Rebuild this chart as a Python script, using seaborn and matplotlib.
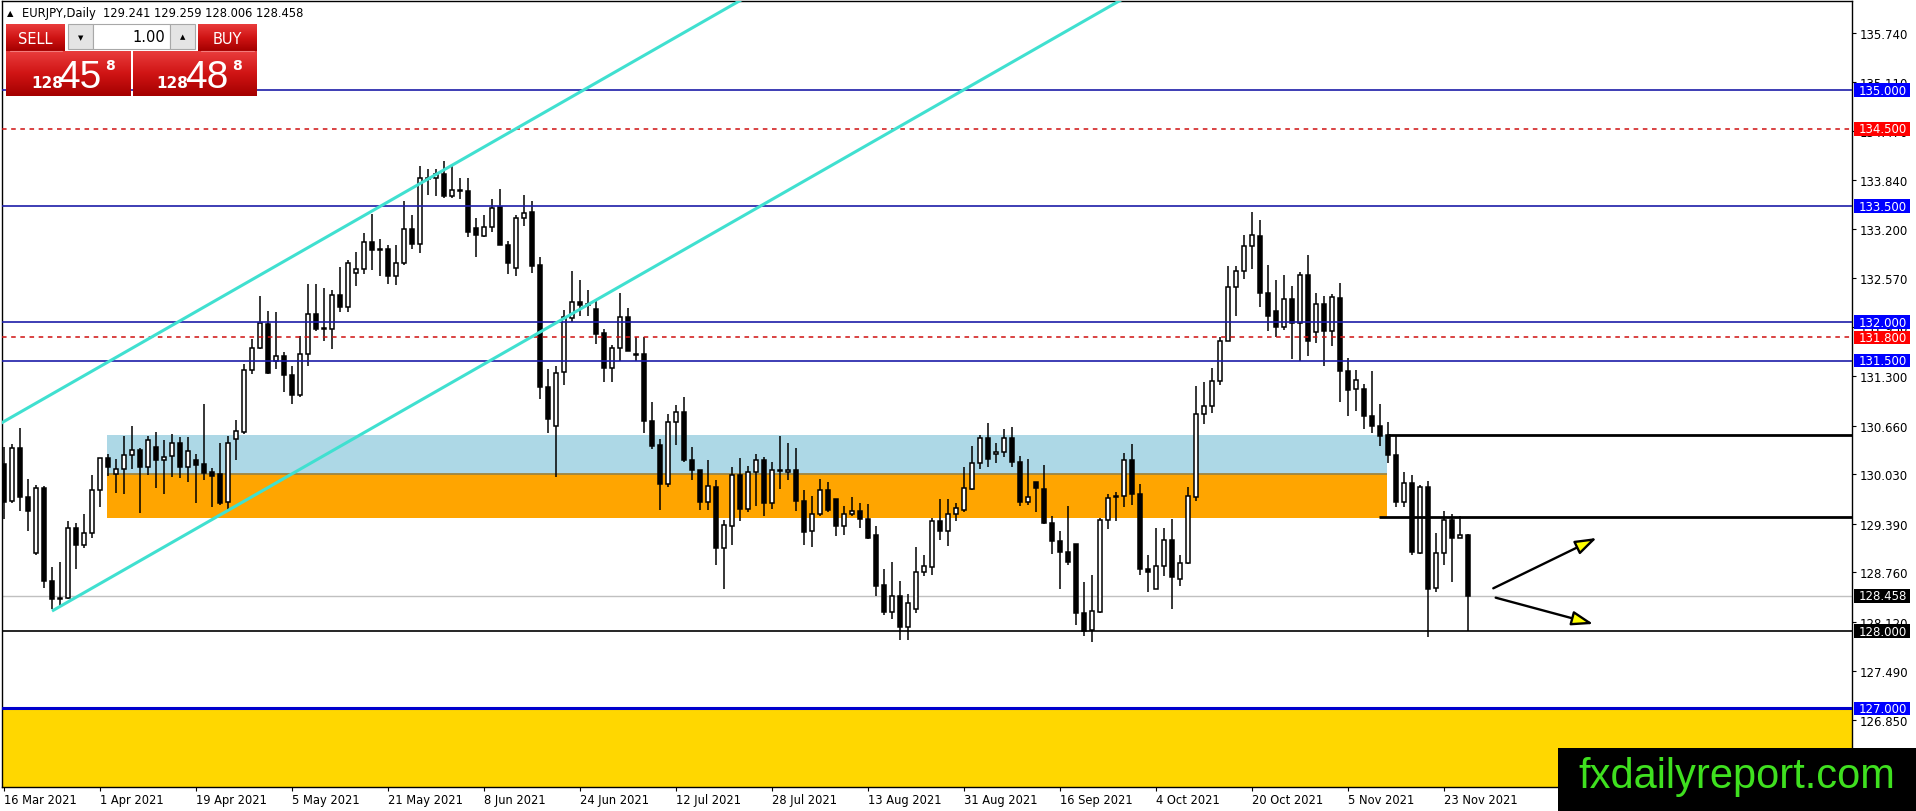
import numpy as np
import pandas as pd
import matplotlib
matplotlib.use('Agg')
import matplotlib.pyplot as plt
import seaborn as sns
from matplotlib.patches import Rectangle, FancyArrowPatch
from matplotlib.transforms import blended_transform_factory
from matplotlib.colors import LinearSegmentedColormap

sns.set_theme(style='white')
plt.rcParams['font.family'] = ['DejaVu Sans']

# ---------------- data ----------------
dates = pd.bdate_range('2021-03-16', periods=184)

open_ = [130.16, 129.68, 130.37, 129.73, 129.01, 129.85, 128.65, 128.42, 128.43, 129.34,
         129.11, 129.27, 129.82, 130.24, 130.03, 130.10, 130.28, 130.35, 130.12, 130.38,
         130.22, 130.26, 130.44, 130.12, 130.22, 130.16, 130.06, 130.03, 129.67, 130.48,
         130.58, 131.38, 131.66, 131.98, 131.50, 131.56, 131.32, 131.06, 131.58, 132.10,
         131.91, 131.91, 132.35, 132.19, 132.64, 132.68, 133.03, 132.94, 132.945, 132.59,
         132.76, 133.20, 133.01, 133.85, 133.87, 133.92, 133.63, 133.71, 133.70, 133.22,
         133.11, 133.225, 133.49, 133.00, 132.695, 133.35, 133.42, 132.74, 131.16, 130.65,
         131.35, 132.05, 132.255, 132.23, 132.17, 131.86, 131.405, 131.67, 132.07, 131.58,
         131.58, 130.72, 130.41, 129.91, 130.71, 130.83, 130.21, 130.085, 129.67, 129.87,
         129.07, 129.36, 130.02, 129.58, 130.055, 130.215, 129.66, 130.07, 130.064, 130.085,
         129.69, 129.29, 129.52, 129.82, 129.71, 129.36, 129.51, 129.55, 129.45, 129.24,
         128.60, 128.25, 128.45, 128.05, 128.28, 128.77, 128.83, 129.42, 129.30, 129.51,
         129.57, 129.84, 130.18, 130.50, 130.29, 130.32, 130.50, 130.19, 129.67, 129.93,
         129.84, 129.40, 129.16, 129.03, 129.13, 128.24, 128.01, 128.25, 129.44, 129.74,
         129.75, 130.21, 129.78, 128.80, 128.55, 128.84, 129.18, 128.68, 128.88, 129.74,
         130.81, 130.91, 131.24, 131.76, 132.45, 132.66, 132.98, 133.11, 132.38, 132.14,
         131.93, 132.30, 131.99, 132.61, 131.87, 132.23, 131.89, 132.31, 131.36, 131.13,
         131.13, 130.79, 130.66, 130.54, 130.28, 129.67, 129.92, 129.01, 129.87, 128.56,
         129.01, 129.44, 129.21, 129.241]
high = [130.38, 130.42, 130.63, 129.97, 129.89, 129.88, 128.83, 128.90, 129.42, 129.40,
        129.52, 130.02, 130.24, 130.29, 130.23, 130.53, 130.66, 130.37, 130.53, 130.58,
        130.47, 130.55, 130.51, 130.51, 130.29, 130.94, 130.11, 130.43, 130.52, 130.73,
        131.46, 131.78, 132.34, 132.14, 132.13, 131.61, 131.43, 131.82, 132.49, 132.49,
        132.44, 132.41, 132.71, 132.80, 132.91, 133.15, 133.40, 133.07, 133.00, 133.00,
        133.57, 133.38, 134.02, 133.98, 133.98, 134.09, 134.02, 133.87, 133.87, 133.34,
        133.39, 133.59, 133.72, 133.05, 133.38, 133.64, 133.56, 132.84, 131.39, 131.43,
        132.15, 132.66, 132.54, 132.42, 132.30, 131.91, 131.70, 132.38, 132.18, 131.80,
        131.80, 130.97, 130.49, 130.81, 130.93, 131.03, 130.38, 130.09, 130.22, 129.95,
        129.44, 130.12, 130.24, 130.14, 130.29, 130.25, 130.185, 130.52, 130.44, 130.37,
        129.82, 129.75, 129.97, 129.93, 129.71, 129.62, 129.74, 129.66, 129.645, 129.365,
        128.81, 128.89, 128.65, 128.48, 129.09, 128.985, 129.46, 129.71, 129.71, 129.66,
        130.12, 130.40, 130.54, 130.69, 130.44, 130.62, 130.64, 130.27, 130.23, 129.93,
        130.15, 129.49, 129.30, 129.62, 129.13, 128.64, 128.73, 129.47, 129.77, 129.80,
        130.31, 130.42, 129.90, 128.98, 129.33, 129.33, 129.45, 128.98, 129.86, 131.17,
        131.22, 131.40, 131.81, 132.73, 132.72, 133.13, 133.43, 133.32, 132.74, 132.55,
        132.61, 132.47, 132.65, 132.87, 132.38, 132.34, 132.36, 132.50, 131.53, 131.38,
        131.20, 131.37, 130.94, 130.70, 130.52, 130.06, 130.02, 129.89, 129.94, 129.27,
        129.55, 129.52, 129.49, 129.259]
low = [129.45, 129.66, 129.56, 129.29, 128.99, 128.56, 128.28, 128.33, 128.41, 128.80,
       129.08, 129.21, 129.61, 130.01, 129.79, 129.78, 130.10, 129.53, 130.02, 129.85,
       129.77, 129.99, 129.98, 129.93, 129.66, 129.96, 129.60, 129.63, 129.57, 130.22,
       130.55, 131.33, 131.65, 131.33, 131.39, 131.10, 130.94, 131.03, 131.43, 131.89,
       131.75, 131.65, 132.13, 132.13, 132.47, 132.62, 132.67, 132.60, 132.49, 132.48,
       132.74, 132.945, 132.89, 133.64, 133.63, 133.61, 133.61, 133.59, 133.10, 132.84,
       133.10, 133.16, 133.00, 132.62, 132.60, 133.24, 132.64, 131.00, 130.57, 130.00,
       131.18, 132.00, 132.08, 132.08, 131.72, 131.22, 131.22, 131.50, 131.62, 131.49,
       130.57, 130.36, 129.57, 129.87, 130.41, 130.185, 129.96, 129.57, 129.57, 128.85,
       128.55, 129.11, 129.43, 129.54, 129.62, 129.49, 129.58, 129.84, 129.96, 129.55,
       129.11, 129.085, 129.49, 129.54, 129.23, 129.24, 129.49, 129.34, 129.19, 128.46,
       128.21, 128.16, 127.89, 127.89, 128.24, 128.71, 128.72, 129.18, 129.10, 129.43,
       129.54, 129.82, 130.10, 130.12, 130.18, 130.25, 130.12, 129.615, 129.63, 129.54,
       129.39, 129.00, 128.55, 128.85, 128.08, 127.94, 127.86, 128.24, 129.32, 129.43,
       129.60, 129.63, 128.72, 128.50, 128.55, 128.71, 128.28, 128.58, 128.87, 129.69,
       130.68, 130.82, 131.19, 131.75, 132.08, 132.56, 132.68, 132.20, 131.88, 131.80,
       131.90, 131.52, 131.50, 131.56, 131.73, 131.43, 131.69, 130.96, 130.78, 130.85,
       130.62, 130.57, 130.39, 130.18, 129.60, 129.60, 128.98, 129.00, 127.93, 128.51,
       128.85, 128.64, 129.20, 128.006]
close = [129.67, 130.37, 129.73, 129.56, 129.85, 128.65, 128.41, 128.42, 129.34, 129.12,
         129.27, 129.82, 130.24, 130.13, 130.10, 130.28, 130.35, 130.12, 130.47, 130.22,
         130.25, 130.44, 130.12, 130.33, 130.15, 130.05, 130.01, 129.66, 130.44, 130.59,
         131.38, 131.66, 131.99, 131.34, 131.56, 131.32, 131.06, 131.58, 132.10, 131.91,
         131.92, 132.35, 132.19, 132.76, 132.68, 133.03, 132.93, 132.93, 132.59, 132.76,
         133.20, 133.01, 133.86, 133.86, 133.92, 133.63, 133.71, 133.70, 133.17, 133.12,
         133.225, 133.48, 133.00, 132.76, 133.35, 133.41, 132.73, 131.16, 130.75, 131.34,
         132.06, 132.255, 132.225, 132.22, 131.84, 131.405, 131.66, 132.07, 131.63, 131.57,
         130.72, 130.39, 129.91, 130.71, 130.83, 130.21, 130.08, 129.67, 129.88, 129.07,
         129.37, 130.02, 129.58, 130.055, 130.21, 129.66, 130.09, 130.085, 130.09, 129.68,
         129.28, 129.52, 129.82, 129.57, 129.36, 129.51, 129.56, 129.45, 129.21, 128.59,
         128.25, 128.45, 128.05, 128.37, 128.77, 128.84, 129.42, 129.30, 129.51, 129.59,
         129.85, 130.18, 130.50, 130.23, 130.32, 130.50, 130.19, 129.67, 129.73, 129.85,
         129.40, 129.16, 129.03, 128.89, 128.23, 128.00, 128.26, 129.44, 129.72, 129.75,
         130.21, 129.78, 128.80, 128.76, 128.84, 129.18, 128.70, 128.88, 129.75, 130.81,
         130.91, 131.24, 131.75, 132.45, 132.66, 132.98, 133.13, 132.38, 132.08, 131.93,
         132.30, 131.99, 132.61, 131.75, 132.23, 131.89, 132.32, 131.36, 131.12, 131.25,
         130.79, 130.66, 130.53, 130.28, 129.67, 129.92, 129.03, 129.87, 128.55, 129.01,
         129.44, 129.20, 129.24, 128.458]

date_tick_labels = ['16 Mar 2021', '1 Apr 2021', '19 Apr 2021', '5 May 2021', '21 May 2021',
                    '8 Jun 2021', '24 Jun 2021', '12 Jul 2021', '28 Jul 2021', '13 Aug 2021',
                    '31 Aug 2021', '16 Sep 2021', '4 Oct 2021', '20 Oct 2021', '5 Nov 2021',
                    '23 Nov 2021']
price_ticks = [126.850, 127.490, 128.120, 128.760, 129.390, 130.030, 130.660, 131.300,
               131.930, 132.570, 133.200, 133.840, 134.470, 135.110, 135.740]

blue_levels = [135.0, 133.5, 132.0, 131.5]
red_levels = [134.5, 131.8]
support_level = 128.0
last_price = 128.458
deep_level = 127.0
zone_blue = [130.03, 130.54]
zone_orange = [129.46, 130.03]
zone_span = [12.875, 172.875]
res_line = 130.54
sup_line = 129.48
res_line_start = 172.875
sup_line_start = 171.9
channel_upper_x = [-1.0, 95.0]
channel_upper_y = [130.654, 136.337]
channel_lower_x = [6.0, 140.0]
channel_lower_y = [128.26, 136.19]
arrow_up = [(186.16, 128.554), (199.09, 129.206)]
arrow_down = [(186.46, 128.433), (198.66, 128.093)]
tag_levels = [(135.0, '#0000ff'), (134.5, '#ff0000'), (133.5, '#0000ff'), (132.0, '#0000ff'),
              (131.8, '#ff0000'), (131.5, '#0000ff'), (128.458, '#000000'),
              (128.0, '#000000'), (127.0, '#0000ff')]

# ---------------- figure ----------------
W, H = 1916, 812
fig = plt.figure(figsize=(W / 100, H / 100), dpi=100, facecolor='white')
ax = fig.add_axes([2 / W, 1 - 788 / H, (1852 - 2) / W, (788 - 2) / H])
ax.set_facecolor('white')

n = len(dates)
x = np.arange(n)
o = np.array(open_); c = np.array(close); hi = np.array(high); lo = np.array(low)
up = c >= o
bb = np.minimum(o, c)
bh = np.maximum(np.abs(c - o), 0.012)

# zones
ax.add_patch(Rectangle((zone_span[0], zone_blue[0]), zone_span[1] - zone_span[0],
                       zone_blue[1] - zone_blue[0], color='#add8e6', lw=0, zorder=1))
ax.add_patch(Rectangle((zone_span[0], zone_orange[0]), zone_span[1] - zone_span[0],
                       zone_orange[1] - zone_orange[0], color='#ffa500', lw=0, zorder=1))
ax.hlines(zone_orange[1], zone_span[0], zone_span[1], color='#9e8540', lw=1.3, zorder=1.5)
ax.axhspan(120, deep_level, color='#ffd700', lw=0, zorder=1)

# candles
ax.vlines(x, lo, hi, color='black', lw=1.1, zorder=3)
ax.bar(x[up], bh[up], bottom=bb[up], width=0.62, color='white', edgecolor='black',
       linewidth=1.1, zorder=4)
ax.bar(x[~up], bh[~up], bottom=bb[~up], width=0.62, color='black', edgecolor='black',
       linewidth=1.1, zorder=4)

# horizontal levels
for lv in blue_levels:
    ax.axhline(lv, color='#1c1ca8', lw=1.2, zorder=5)
for lv in red_levels:
    ax.axhline(lv, color='#d01010', lw=1.1, ls=(0, (3, 3)), zorder=5)
ax.axhline(deep_level, color='#0000cc', lw=2.2, zorder=5)
ax.axhline(last_price, color='#c0c0c0', lw=1.0, zorder=2)
ax.axhline(support_level, color='black', lw=1.2, zorder=5)
ax.hlines(res_line, res_line_start, 240, color='black', lw=2.0, zorder=5)
ax.hlines(sup_line, sup_line_start, 240, color='black', lw=2.0, zorder=5)

# channel
ax.plot(channel_upper_x, channel_upper_y, color='#40e0d0', lw=2.2, zorder=5,
        solid_capstyle='butt')
ax.plot(channel_lower_x, channel_lower_y, color='#40e0d0', lw=2.2, zorder=5,
        solid_capstyle='butt')

# arrows
for (p0, p1) in (arrow_up, arrow_down):
    ar = FancyArrowPatch(p0, p1, arrowstyle='-|>,head_length=0.65,head_width=0.22',
                         mutation_scale=20, facecolor='#ffff00', edgecolor='black',
                         lw=1.7, zorder=6, shrinkA=0, shrinkB=0)
    ax.add_patch(ar)

ax.set_xlim(-0.25, 231.0)
ax.set_ylim(125.983, 136.154)

# axes styling
for s in ax.spines.values():
    s.set_color('black')
    s.set_linewidth(1.0)
ax.yaxis.tick_right()
ax.set_yticks(price_ticks)
ax.set_yticklabels([f'{p:.3f}' for p in price_ticks])
ax.set_xticks(x[::12])
ax.set_xticklabels(date_tick_labels)
for lab in ax.get_xticklabels():
    lab.set_ha('left')
ax.tick_params(axis='y', which='both', right=True, left=False, length=3, width=0.8,
               pad=2.5, labelsize=8.5, colors='black', direction='out')
ax.tick_params(axis='x', which='both', bottom=True, length=3, width=0.8, pad=1.5,
               labelsize=8.3, colors='black', direction='out')
ax.grid(False)

# price tags on the right
bt = blended_transform_factory(ax.transAxes, ax.transData)
for lv, col in tag_levels:
    ax.add_patch(Rectangle((1.00108, lv - 0.088), 0.0303, 0.176, transform=bt,
                           facecolor=col, lw=0, clip_on=False, zorder=8))
    ax.text(1.0165, lv, f'{lv:.3f}', transform=bt, color='white', ha='center',
            va='center', fontsize=8.5, zorder=9, clip_on=False)

# ---------------- overlay (pixel coordinates) ----------------
ov = fig.add_axes([0, 0, 1, 1], zorder=10)
ov.patch.set_alpha(0)
ov.axis('off')

cm = LinearSegmentedColormap.from_list('mtred', ['#e93c3c', '#d01414', '#a40000'])
grad = np.linspace(0, 1, 64).reshape(-1, 1)


def gpanel(x0, x1, y0, y1):
    ov.imshow(grad, extent=(x0, x1, y1, y0), aspect='auto', cmap=cm, zorder=1,
              interpolation='bilinear')


gpanel(6, 65, 25, 52)
gpanel(6, 131, 52, 97)
gpanel(198, 257, 25, 52)
gpanel(133, 257, 52, 97)
ov.plot([10, 62], [52, 52], color='#f27a7a', lw=0.8, zorder=2)
ov.plot([201, 254], [52, 52], color='#f27a7a', lw=0.8, zorder=2)

ov.add_patch(Rectangle((68, 25), 25, 25, facecolor='#e4e4e4', edgecolor='#a8a8a8', lw=0.8, zorder=2))
ov.add_patch(Rectangle((93, 25), 77, 25, facecolor='white', edgecolor='#a8a8a8', lw=0.8, zorder=2))
ov.add_patch(Rectangle((170, 25), 25, 25, facecolor='#e4e4e4', edgecolor='#a8a8a8', lw=0.8, zorder=2))
ov.text(80.5, 38, '▼', fontsize=5, ha='center', va='center', color='black', zorder=3)
ov.text(182.5, 37, '▲', fontsize=5, ha='center', va='center', color='black', zorder=3)
ov.text(165, 38, '1.00', fontsize=10.5, ha='right', va='center', color='black', zorder=3)

ov.text(35.5, 39, 'SELL', fontsize=10.5, ha='center', va='center', color='white', zorder=3)
ov.text(227.5, 39, 'BUY', fontsize=10.5, ha='center', va='center', color='white', zorder=3)

big_font = ['Liberation Sans', 'DejaVu Sans']
ov.text(31, 88, '128', fontsize=11, fontweight='bold', ha='left', va='baseline',
        color='white', zorder=3)
ov.text(58, 88, '45', fontsize=28, ha='left', va='baseline', color='white', zorder=3,
        family=big_font)
ov.text(105, 70, '8', fontsize=10, fontweight='bold', ha='left', va='baseline',
        color='white', zorder=3)
ov.text(156, 88, '128', fontsize=11, fontweight='bold', ha='left', va='baseline',
        color='white', zorder=3)
ov.text(185, 88, '48', fontsize=28, ha='left', va='baseline', color='white', zorder=3,
        family=big_font)
ov.text(232, 70, '8', fontsize=10, fontweight='bold', ha='left', va='baseline',
        color='white', zorder=3)

# title
ov.text(7, 13.5, '▲', fontsize=6, ha='left', va='center', color='black', zorder=3)
ov.text(22, 13.5, 'EURJPY,Daily  129.241 129.259 128.006 128.458', fontsize=8.3,
        ha='left', va='center', color='black', zorder=3)

# watermark
ov.add_patch(Rectangle((1558, 749), W - 1558, H - 749, facecolor='black', lw=0, zorder=4))
ov.text(1737, 788, 'fxdailyreport.com', fontsize=30, ha='center', va='baseline',
        color='#3fe01f', zorder=5, family=big_font)

ov.set_xlim(0, W)
ov.set_ylim(H, 0)

fig.savefig('out.png', dpi=100, facecolor='white')
